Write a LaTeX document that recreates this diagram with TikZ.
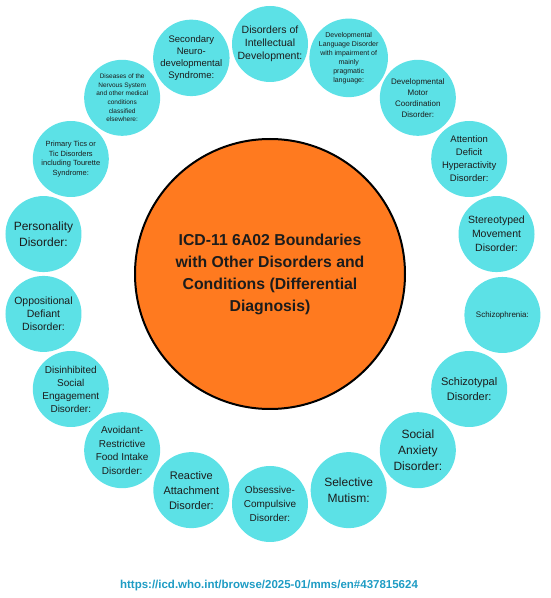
\documentclass[tikz,border=0pt]{standalone}
\usepackage{fontspec}
\setmainfont{Liberation Sans}
\usetikzlibrary{positioning,calc}

\definecolor{hubOrange}{HTML}{FF7A1F}
\definecolor{itemCyan}{HTML}{5CE1E6}
\definecolor{linkBlue}{HTML}{1E9CC4}
\definecolor{inkDark}{HTML}{1C1C1C}

\newcommand{\fsz}[2]{\fontsize{#1}{#2}\selectfont}

\begin{document}
\begin{tikzpicture}[x=1pt, y=1pt]

        \def\R{230}

        % Styles for the centre circle and the ring of circles
        \tikzset{
            hub/.style={circle, draw=black, line width=2pt, fill=hubOrange,
                minimum size=270pt, inner sep=0pt, align=center,
                text=inkDark, font=\bfseries\fsz{15.8}{22}},
            item/.style={circle, fill=itemCyan, minimum size=76pt,
                inner sep=0pt, align=center, text=inkDark}
        }

        \useasboundingbox (0,0) rectangle (550,598);

        \node[hub] (Hub) at (270,324)
        {ICD-11 6A02 Boundaries\\with Other Disorders and\\Conditions (Differential\\Diagnosis)};

        % Ring of related disorders, clockwise from the top
        \begin{scope}
            \node[item, font=\fsz{10.5}{13}] (D1) at ([shift={(90:\R)}]Hub)
            {Disorders of\\Intellectual\\Development:};
            \node[item, font=\fsz{7}{9}] (D2) at ([shift={(70:\R)}]Hub)
            {Developmental\\Language Disorder\\with impairment of\\mainly\\pragmatic\\language:};
            \node[item, font=\fsz{8}{11}] (D3) at ([shift={(50:\R)}]Hub)
            {Developmental\\Motor\\Coordination\\Disorder:};
            \node[item, font=\fsz{9.5}{13}] (D4) at ([shift={(30:\R)}]Hub)
            {Attention\\Deficit\\Hyperactivity\\Disorder:};
            \node[item, font=\fsz{10.5}{14}] (D5) at ([shift={(10:\R)}]Hub)
            {Stereotyped\\Movement\\Disorder:};
            \node[item, font=\fsz{8}{10}] (D6) at ([shift={(-10:236)}]Hub)
            {Schizophrenia:};
            \node[item, font=\fsz{11}{14.5}] (D7) at ([shift={(-30:\R)}]Hub)
            {Schizotypal\\Disorder:};
            \node[item, font=\fsz{12}{16}] (D8) at ([shift={(-50:\R)}]Hub)
            {Social\\Anxiety\\Disorder:};
            \node[item, font=\fsz{12}{16}] (D9) at ([shift={(-70:\R)}]Hub)
            {Selective\\Mutism:};
            \node[item, font=\fsz{10}{14}] (D10) at ([shift={(-90:\R)}]Hub)
            {Obsessive-\\Compulsive\\Disorder:};
            \node[item, font=\fsz{11}{15}] (D11) at ([shift={(-110:\R)}]Hub)
            {Reactive\\Attachment\\Disorder:};
            \node[item, font=\fsz{10}{13.5}] (D12) at ([shift={(-130:\R)}]Hub)
            {Avoidant-\\Restrictive\\Food Intake\\Disorder:};
            \node[item, font=\fsz{10}{13}] (D13) at ([shift={(-150:\R)}]Hub)
            {Disinhibited\\Social\\Engagement\\Disorder:};
            \node[item, font=\fsz{10.5}{13}] (D14) at ([shift={(-170:\R)}]Hub)
            {Oppositional\\Defiant\\Disorder:};
            \node[item, font=\fsz{12}{15.5}] (D15) at ([shift={(170:\R)}]Hub)
            {Personality\\Disorder:};
            \node[item, font=\fsz{7.5}{9.7}] (D16) at ([shift={(150:\R)}]Hub)
            {Primary Tics or\\Tic Disorders\\including Tourette\\Syndrome:};
            \node[item, font=\fsz{6.5}{8.6}] (D17) at ([shift={(130:\R)}]Hub)
            {Diseases of the\\Nervous System\\and other medical\\conditions\\classified\\elsewhere:};
            \node[item, font=\fsz{9.5}{12}] (D18) at ([shift={(110:\R)}]Hub)
            {Secondary\\Neuro-\\developmental\\Syndrome:};
        \end{scope}

        \node[text=linkBlue, font=\bfseries\fsz{11.5}{13}] (Link) at (269,12)
        {https://icd.who.int/browse/2025-01/mms/en\#437815624};

\end{tikzpicture}
\end{document}
